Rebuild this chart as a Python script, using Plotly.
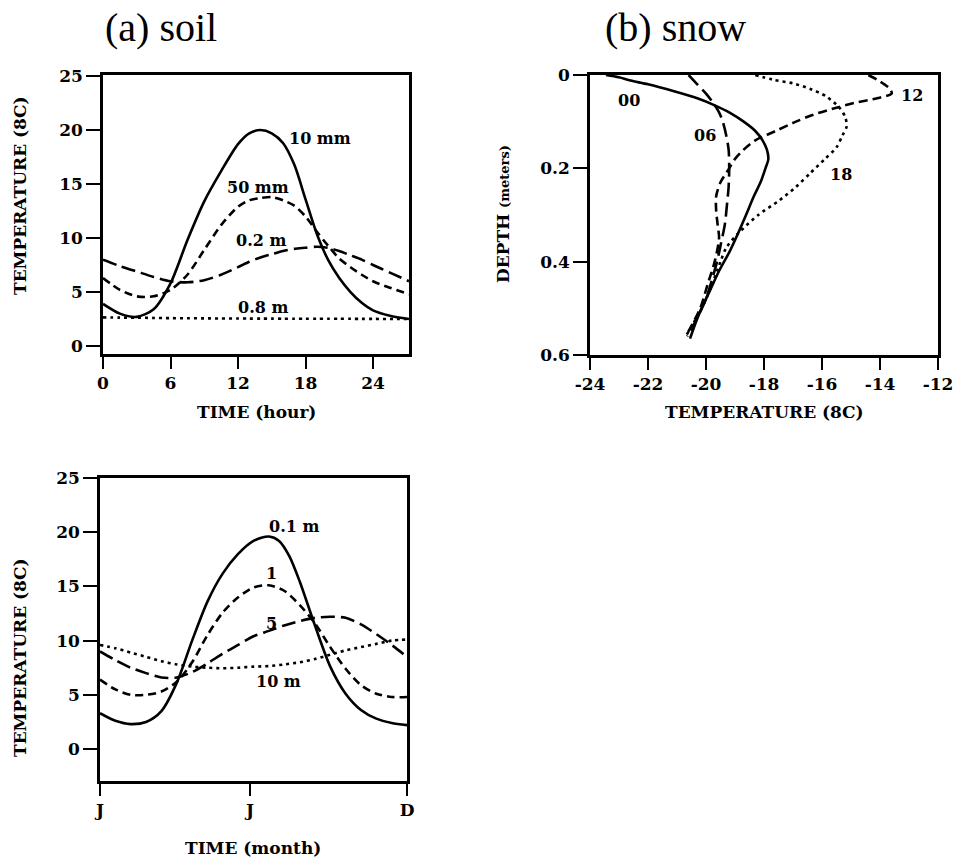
import plotly.graph_objects as go

W, H = 955, 865

# ---------------- (a) soil, diurnal ----------------
hours = [0, 1.5, 3, 4.5, 6, 7.5, 9, 10.5, 12, 13, 14, 15, 16, 17, 18, 19, 20, 21, 22, 23, 24, 25.5, 27.2]
t_10mm = [3.9, 3.0, 2.7, 3.4, 5.8, 9.8, 13.4, 16.2, 18.7, 19.7, 20.0, 19.7, 18.8, 16.8, 13.6, 10.4, 8.0, 6.3, 5.0, 4.0, 3.3, 2.8, 2.5]
t_50mm = [6.3, 5.2, 4.6, 4.6, 5.2, 6.6, 8.9, 11.2, 12.9, 13.5, 13.7, 13.8, 13.5, 13.0, 12.0, 10.6, 9.3, 8.1, 7.3, 6.6, 6.0, 5.4, 4.8]
t_02m = [8.0, 7.4, 6.9, 6.4, 6.0, 5.9, 6.1, 6.6, 7.3, 7.8, 8.2, 8.5, 8.8, 9.0, 9.1, 9.2, 9.1, 8.8, 8.4, 8.0, 7.5, 6.8, 6.0]
t_08m = [2.65, 2.63, 2.62, 2.6, 2.58, 2.57, 2.56, 2.55, 2.55, 2.54, 2.54, 2.54, 2.53, 2.53, 2.53, 2.52, 2.52, 2.52, 2.52, 2.51, 2.51, 2.5, 2.5]
hour_ticks = [0, 6, 12, 18, 24]
soil_temp_ticks = [0, 5, 10, 15, 20, 25]

# ---------------- (b) snow profiles ----------------
d_00 = [0, 0.005, 0.012, 0.02, 0.035, 0.05, 0.065, 0.08, 0.1, 0.12, 0.14, 0.16, 0.18, 0.2, 0.23, 0.26, 0.3, 0.34, 0.38, 0.42, 0.46, 0.5, 0.53, 0.565]
t_00 = [-23.45, -23.0, -22.6, -22.0, -21.1, -20.3, -19.7, -19.2, -18.7, -18.3, -18.05, -17.9, -17.85, -17.95, -18.12, -18.35, -18.62, -18.9, -19.2, -19.55, -19.85, -20.15, -20.35, -20.55]
d_06 = [0, 0.02, 0.04, 0.06, 0.08, 0.1, 0.13, 0.16, 0.2, 0.24, 0.28, 0.32, 0.36, 0.4, 0.44, 0.48, 0.52, 0.56]
t_06 = [-20.6, -20.3, -20.0, -19.75, -19.55, -19.42, -19.3, -19.22, -19.2, -19.22, -19.28, -19.35, -19.48, -19.62, -19.8, -20.0, -20.3, -20.65]
d_12 = [0, 0.01, 0.02, 0.03, 0.04, 0.05, 0.06, 0.07, 0.085, 0.1, 0.12, 0.14, 0.16, 0.18, 0.2, 0.23, 0.26, 0.29, 0.32, 0.35, 0.4, 0.45, 0.5, 0.56]
t_12 = [-14.4, -14.1, -13.85, -13.65, -13.6, -14.1, -14.9, -15.5, -16.3, -16.9, -17.6, -18.3, -18.7, -19.0, -19.2, -19.5, -19.65, -19.65, -19.6, -19.55, -19.7, -19.95, -20.2, -20.7]
d_18 = [0, 0.01, 0.018, 0.03, 0.046, 0.07, 0.09, 0.11, 0.13, 0.155, 0.18, 0.21, 0.24, 0.27, 0.3, 0.34, 0.37, 0.4, 0.45, 0.5, 0.56]
t_18 = [-18.3, -17.7, -17.0, -16.4, -15.85, -15.4, -15.2, -15.15, -15.3, -15.5, -15.9, -16.4, -16.9, -17.5, -18.2, -18.9, -19.3, -19.5, -19.8, -20.15, -20.7]
snow_temp_ticks = [-24, -22, -20, -18, -16, -14, -12]
depth_ticks = [0, 0.2, 0.4, 0.6]

# ---------------- (a) soil, annual ----------------
months_01m = [0, 0.6, 1.2, 1.8, 2.4, 3.0, 3.6, 4.2, 4.8, 5.4, 6.0, 6.6, 7.0, 7.4, 7.8, 8.4, 9.0, 9.6, 10.2, 10.8, 11.4, 12]
t_01m = [3.3, 2.6, 2.3, 2.5, 3.5, 6.1, 10.0, 13.6, 16.2, 18.0, 19.2, 19.6, 19.2, 17.8, 15.5, 11.4, 7.6, 5.1, 3.6, 2.8, 2.4, 2.2]
months = [0, 0.6, 1.2, 1.8, 2.4, 3.0, 3.6, 4.2, 4.8, 5.4, 6.0, 6.6, 7.2, 7.8, 8.4, 9.0, 9.6, 10.2, 10.8, 11.4, 12]
t_1m = [6.4, 5.5, 5.0, 5.0, 5.3, 6.2, 8.0, 10.5, 12.6, 14.0, 14.9, 15.1, 14.6, 13.3, 11.6, 9.4, 7.4, 5.9, 5.1, 4.8, 4.8]
t_5m = [9.0, 8.2, 7.5, 7.0, 6.6, 6.6, 7.1, 7.9, 8.8, 9.6, 10.4, 10.9, 11.4, 11.8, 12.1, 12.2, 12.1, 11.5, 10.6, 9.6, 8.5]
t_10m = [9.6, 9.3, 8.9, 8.5, 8.1, 7.8, 7.6, 7.5, 7.45, 7.5, 7.6, 7.65, 7.8, 8.0, 8.3, 8.7, 9.1, 9.4, 9.7, 10.0, 10.1]
month_tick_vals = [0, 5.86, 12]
month_tick_text = ["J", "J", "D"]

SERIF = "DejaVu Serif"
LW = 2.6

fig = go.Figure()

def add(x, y, dash, xa, ya):
    fig.add_trace(go.Scatter(x=x, y=y, mode="lines", xaxis=xa, yaxis=ya,
                             line=dict(color="black", width=LW, dash=dash, shape="spline", smoothing=0.8),
                             showlegend=False, hoverinfo="skip"))

add(hours, t_10mm, "solid", "x", "y")
add(hours, t_50mm, "8px,5px", "x", "y")
add(hours, t_02m, "14px,6px", "x", "y")
add(hours, t_08m, "3px,4px", "x", "y")

add(t_00, d_00, "solid", "x2", "y2")
add(t_06, d_06, "14px,6px", "x2", "y2")
add(t_12, d_12, "9px,5px", "x2", "y2")
add(t_18, d_18, "3px,4px", "x2", "y2")

add(months_01m, t_01m, "solid", "x3", "y3")
add(months, t_1m, "8px,5px", "x3", "y3")
add(months, t_5m, "14px,6px", "x3", "y3")
add(months, t_10m, "3px,4px", "x3", "y3")

tickfont = dict(family=SERIF, size=17, color="black", weight="bold")
axcommon = dict(showgrid=False, zeroline=False, showline=True, linecolor="black", linewidth=2.5,
                mirror=True, ticks="outside", tickwidth=2, tickcolor="black", tickfont=tickfont,
                ticklabeloverflow="allow")

def px_x(p):
    return p / W

def px_y(p):
    return 1 - p / H

fig.update_layout(
    width=W, height=H, margin=dict(l=0, r=0, t=0, b=0, autoexpand=False),
    paper_bgcolor="white", plot_bgcolor="white",
    xaxis=dict(domain=[px_x(103), px_x(409)], range=[0, 27.2], tickvals=hour_ticks,
               ticklen=12, anchor="y", **axcommon),
    yaxis=dict(domain=[px_y(354), px_y(75)], range=[-0.74, 25.1], tickvals=soil_temp_ticks,
               ticklen=14, anchor="x", **axcommon),
    xaxis2=dict(domain=[px_x(590), px_x(938)], range=[-24, -12], tickvals=snow_temp_ticks,
                ticktext=[str(v).replace("\u2212", "-") for v in snow_temp_ticks],
                ticklen=12, anchor="y2", **axcommon),
    yaxis2=dict(domain=[px_y(355), px_y(75)], range=[0.6, 0], tickvals=depth_ticks,
                ticktext=["0", "0.2", "0.4", "0.6"], ticklen=14, anchor="x2", **axcommon),
    xaxis3=dict(domain=[px_x(100), px_x(407)], range=[0, 12], tickvals=month_tick_vals,
                ticktext=month_tick_text, ticklen=12, anchor="y3", **axcommon),
    yaxis3=dict(domain=[px_y(781), px_y(478)], range=[-2.95, 25], tickvals=soil_temp_ticks,
                ticklen=14, anchor="x3", **axcommon),
)

labfont = dict(family=SERIF, size=16, color="black", weight="bold")
curve_labels = [
    ("10 mm", 19.3, 19.2, "x", "y"), ("50 mm", 13.8, 14.7, "x", "y"),
    ("0.2 m", 14.0, 9.8, "x", "y"), ("0.8 m", 14.25, 3.6, "x", "y"),
    ("00", -22.64, 0.054, "x2", "y2"), ("06", -20.04, 0.129, "x2", "y2"),
    ("12", -12.9, 0.043, "x2", "y2"), ("18", -15.35, 0.214, "x2", "y2"),
    ("0.1 m", 7.6, 20.5, "x3", "y3"), ("1", 6.7, 16.2, "x3", "y3"),
    ("5", 6.7, 11.6, "x3", "y3"), ("10 m", 6.96, 6.2, "x3", "y3"),
]
for txt, x, y, xr, yr in curve_labels:
    fig.add_annotation(text=txt, x=x, y=y, xref=xr, yref=yr, showarrow=False, font=labfont,
                       xanchor="center", yanchor="middle")

titfont = dict(family=SERIF, size=17, color="black", weight="bold")
axis_titles = [
    ("TIME (hour)", 256, 412, 0), ("TEMPERATURE (8C)", 764, 412, 0),
    ("TIME (month)", 253, 848, 0),
    ("TEMPERATURE (8C)", 20, 196, -90), ("TEMPERATURE (8C)", 20, 658, -90),
    ("DEPTH <span style='font-size:13px'>(meters)</span>", 503, 214, -90),
]
for txt, x, y, ang in axis_titles:
    fig.add_annotation(text=txt, x=px_x(x), y=px_y(y), xref="paper", yref="paper",
                       showarrow=False, textangle=ang, font=titfont,
                       xanchor="center", yanchor="middle")

for txt, x in [("(a) soil", 161), ("(b) snow", 675)]:
    fig.add_annotation(text=txt, x=px_x(x), y=px_y(27), xref="paper", yref="paper",
                       showarrow=False, xanchor="center", yanchor="middle",
                       font=dict(family="Liberation Serif", size=40, color="black"))

fig.write_html("out.html", post_script="document.body.style.margin='0';document.body.style.overflow='hidden';")
